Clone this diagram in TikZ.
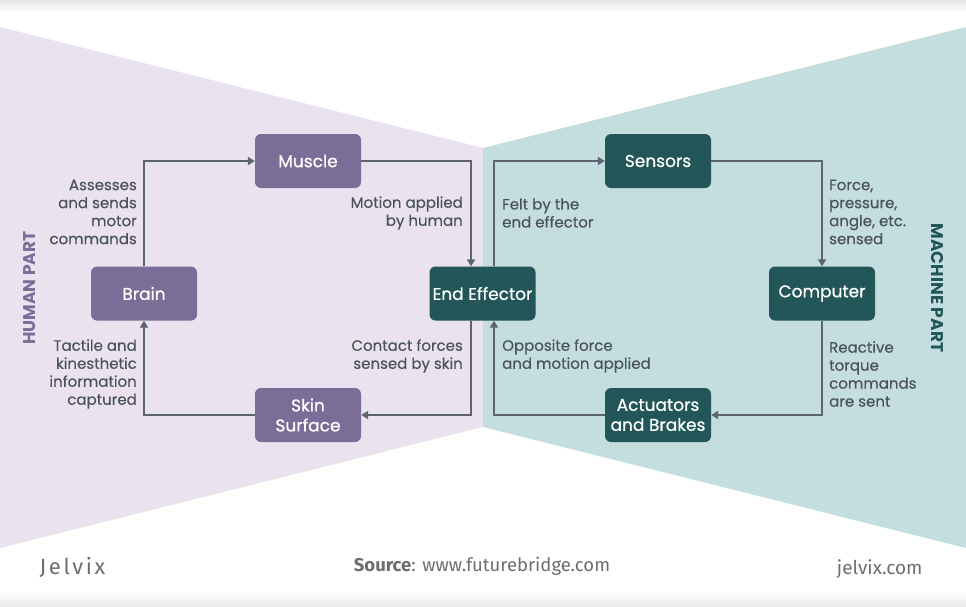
\documentclass[tikz,border=0pt]{standalone}
\usepackage{fontspec}
\setmainfont{Poppins}
\newfontfamily\boxfont[FakeBold=0.7]{Poppins}
\newfontfamily\lblfont[FakeBold=0.25]{Poppins}
\newfontfamily\footfont{Fira Sans}
\newfontfamily\logofont[LetterSpace=12]{Fira Sans}
\usetikzlibrary{arrows.meta}
\definecolor{purpleBg}{HTML}{EAE2EF}
\definecolor{tealBg}{HTML}{C4DDDE}
\definecolor{purpleBox}{HTML}{7A6D97}
\definecolor{tealBox}{HTML}{225658}
\definecolor{lineCol}{HTML}{5B6470}
\definecolor{txtCol}{HTML}{4A525E}
\definecolor{footCol}{HTML}{6E6E6E}
\tikzset{
  box/.style={rounded corners=6pt, minimum width=106pt, minimum height=54pt, inner sep=2pt,
    text=white, align=center, font=\boxfont\fontsize{17}{20}\selectfont},
  hbox/.style={box, fill=purpleBox},
  mbox/.style={box, fill=tealBox},
  conn/.style={draw=lineCol, line width=2.4pt, -{Triangle[length=7pt,width=8pt]}},
  lblR/.style={anchor=east, align=right, text=txtCol, inner sep=0pt, font=\lblfont\fontsize{15}{18}\selectfont},
  lblL/.style={anchor=west, align=left, text=txtCol, inner sep=0pt, font=\lblfont\fontsize{15}{18}\selectfont},
}
\begin{document}
\begin{tikzpicture}[x=1pt,y=-1pt]
\useasboundingbox (0,0) rectangle (966,606);
\fill[white] (0,0) rectangle (966,606);
\shade[top color=black!10, bottom color=white] (0,0) rectangle (966,12);
\shade[top color=white, bottom color=black!8] (0,590) rectangle (966,606);
% backgrounds
\fill[purpleBg] (0,27) -- (483,148) -- (483,427) -- (0,548) -- cycle;
\fill[tealBg] (966,27) -- (483,148) -- (483,427) -- (966,548) -- cycle;
% boxes
\node[hbox] (muscle) at (308,161) {Muscle};
\node[hbox] (brain) at (144,293.5) {Brain};
\node[hbox] (skin) at (308,415) {Skin\\Surface};
\node[mbox] (ee) at (482.5,293.5) {End Effector};
\node[mbox] (sensors) at (658,161) {Sensors};
\node[mbox] (computer) at (822,293.5) {Computer};
\node[mbox] (act) at (658,415) {Actuators\\and Brakes};
% connectors
\draw[conn] (brain.north) |- (muscle.west);
\draw[conn] (muscle.east) -| ([xshift=-11.5pt]ee.north);
\draw[conn] ([xshift=-11.5pt]ee.south) |- (skin.east);
\draw[conn] (skin.west) -| (brain.south);
\draw[conn] ([xshift=11.5pt]ee.north) |- (sensors.west);
\draw[conn] (sensors.east) -| (computer.north);
\draw[conn] (computer.south) |- (act.east);
\draw[conn] (act.west) -| ([xshift=11.5pt]ee.south);
% labels
\node[lblR] (l1) at (137,212) {Assesses\\and sends\\motor\\commands};
\node[lblR] (l2) at (463,213) {Motion applied\\by human};
\node[lblR] (l3) at (463,356) {Contact forces\\sensed by skin};
\node[lblR] (l4) at (137,374) {Tactile and\\kinesthetic\\information\\captured};
\node[lblL] (r1) at (502,213) {Felt by the\\end effector};
\node[lblL] (r2) at (829,212) {Force,\\pressure,\\angle, etc.\\sensed};
\node[lblL] (r3) at (502,356) {Opposite force\\and motion applied};
\node[lblL] (r4) at (829,374) {Reactive\\torque\\commands\\are sent};
% side titles
\node[rotate=90, text=purpleBox, font=\fontsize{17}{19}\selectfont\bfseries] (hp) at (30,288) {HUMAN PART};
\node[rotate=-90, text=tealBox, font=\fontsize{17}{19}\selectfont\bfseries] (mp) at (937,288) {MACHINE PART};
% footer
\node[anchor=west, text=footCol, font=\logofont\fontsize{22}{24}\selectfont] (logo) at (36,567) {Jelvix};
\node[text=footCol, font=\footfont\fontsize{18.5}{20}\selectfont] (src) at (482,566) {\textbf{Source}: www.futurebridge.com};
\node[anchor=east, text=footCol, font=\footfont\fontsize{19}{20}\selectfont] (site) at (926,569) {jelvix.com};
\end{tikzpicture}
\end{document}
